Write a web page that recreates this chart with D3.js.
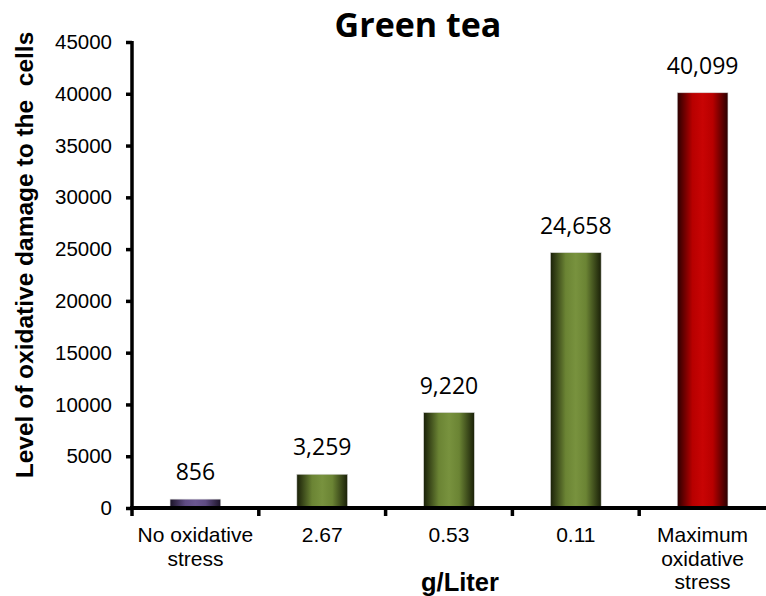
<!DOCTYPE html>
<html>
<head>
<meta charset="utf-8">
<script src="https://cdn.jsdelivr.net/npm/d3@7"></script>
<style>
  html, body { margin: 0; padding: 0; background: #fff; }
  svg { display: block; }
</style>
</head>
<body>
<svg id="chart" width="766" height="596"></svg>
<script>
// Oxidative damage measured for each green tea concentration
const categories = [
  ["No oxidative", "stress"],
  ["2.67"],
  ["0.53"],
  ["0.11"],
  ["Maximum", "oxidative", "stress"]
];
const values = [856, 3259, 9220, 24658, 40099];
const valueLabels = ["856", "3,259", "9,220", "24,658", "40,099"];
const barKinds = ["control", "tea", "tea", "tea", "max"];
const yTicks = [0, 5000, 10000, 15000, 20000, 25000, 30000, 35000, 40000, 45000];

const svg = d3.select("#chart");
const margin = { left: 132, right: 0, top: 42, bottom: 88 };
const W = 766, H = 596;
const plotBottom = H - margin.bottom; // 508

const x = d3.scaleBand()
  .domain(d3.range(values.length))
  .range([margin.left, W - margin.right])
  .paddingInner(0.6)
  .paddingOuter(0.3);

const y = d3.scaleLinear()
  .domain([0, 45000])
  .range([plotBottom, margin.top]);

// cylinder-like shading for each bar kind
const defs = svg.append("defs");
const shades = {
  control: ["#1c1428", "#5f4c83", "#6a5690", "#1c1428"],
  tea:     ["#1a2008", "#6b8434", "#78923e", "#1a2008"],
  max:     ["#2a0000", "#b80000", "#c80404", "#2a0000"]
};
Object.entries(shades).forEach(([k, c]) => {
  const g = defs.append("linearGradient")
    .attr("id", "grad-" + k)
    .attr("x1", "0%").attr("x2", "100%").attr("y1", "0%").attr("y2", "0%");
  g.append("stop").attr("offset", "0%").attr("stop-color", c[0]);
  g.append("stop").attr("offset", "30%").attr("stop-color", c[1]);
  g.append("stop").attr("offset", "50%").attr("stop-color", c[2]);
  g.append("stop").attr("offset", "70%").attr("stop-color", c[1]);
  g.append("stop").attr("offset", "100%").attr("stop-color", c[3]);
});

// bars
svg.append("g").selectAll("rect")
  .data(values)
  .join("rect")
  .attr("x", (d, i) => x(i))
  .attr("y", d => y(d))
  .attr("width", x.bandwidth())
  .attr("height", d => plotBottom - y(d))
  .attr("fill", (d, i) => `url(#grad-${barKinds[i]})`)
  .attr("stroke", "#d8d8d8")
  .attr("stroke-width", 0.6);

// value labels
svg.append("g").selectAll("text")
  .data(values)
  .join("text")
  .attr("x", (d, i) => x(i) + x.bandwidth() / 2)
  .attr("y", d => y(d) - 19)
  .attr("text-anchor", "middle")
  .attr("font-family", "Open Sans, sans-serif")
  .attr("font-size", 23)
  .attr("fill", "#000")
  .text((d, i) => valueLabels[i]);

// y axis
const yAxis = svg.append("g")
  .attr("transform", `translate(${margin.left},0)`)
  .call(d3.axisLeft(y).tickValues(yTicks).tickFormat(d3.format("d")).tickSizeOuter(0).tickSize(6).tickPadding(14));
yAxis.select(".domain").attr("stroke", "#000").attr("stroke-width", 3.5)
  .attr("d", `M0,${margin.top - 1}V${plotBottom + 2}`);
yAxis.selectAll(".tick line").attr("stroke", "#000").attr("stroke-width", 3.5);
yAxis.selectAll(".tick text")
  .attr("font-family", "Liberation Sans, Arial, sans-serif")
  .attr("font-size", 20.5)
  .attr("fill", "#000");

// x axis: ticks sit on band boundaries
const xAxisG = svg.append("g").attr("transform", `translate(0,${plotBottom})`);
xAxisG.append("line")
  .attr("x1", margin.left - 2).attr("x2", W)
  .attr("y1", 0).attr("y2", 0)
  .attr("stroke", "#000").attr("stroke-width", 4);
const bounds = d3.range(values.length).map(i => x(i) - x.step() * x.paddingInner() / 2);
bounds[0] = margin.left;
xAxisG.selectAll("line.tk")
  .data(bounds)
  .join("line")
  .attr("class", "tk")
  .attr("x1", d => d).attr("x2", d => d)
  .attr("y1", 0).attr("y2", 8)
  .attr("stroke", "#000").attr("stroke-width", 3.5);

// category labels
const catG = svg.append("g");
categories.forEach((lines, i) => {
  const t = catG.append("text")
    .attr("x", x(i) + x.bandwidth() / 2)
    .attr("y", 542)
    .attr("text-anchor", "middle")
    .attr("font-family", "Liberation Sans, Arial, sans-serif")
    .attr("font-size", 21)
    .attr("fill", "#000");
  lines.forEach((ln, j) => {
    t.append("tspan")
      .attr("x", x(i) + x.bandwidth() / 2)
      .attr("dy", j === 0 ? 0 : 23.5)
      .text(ln);
  });
});

// axis titles
svg.append("text")
  .attr("x", 460)
  .attr("y", 591)
  .attr("text-anchor", "middle")
  .attr("font-family", "Liberation Sans, Arial, sans-serif")
  .attr("font-weight", "bold")
  .attr("font-size", 25.5)
  .text("g/Liter");

svg.append("text")
  .attr("transform", "translate(33,255) rotate(-90)")
  .attr("text-anchor", "middle")
  .attr("font-family", "Liberation Sans, Arial, sans-serif")
  .attr("font-weight", "bold")
  .attr("font-size", 24.5)
  .attr("xml:space", "preserve")
  .style("white-space", "pre")
  .text("Level of oxidative damage to the  cells");

// chart title
svg.append("text")
  .attr("x", 418)
  .attr("y", 37)
  .attr("text-anchor", "middle")
  .attr("font-family", "Open Sans, sans-serif")
  .attr("font-weight", "bold")
  .attr("font-size", 34)
  .text("Green tea");
</script>
</body>
</html>
